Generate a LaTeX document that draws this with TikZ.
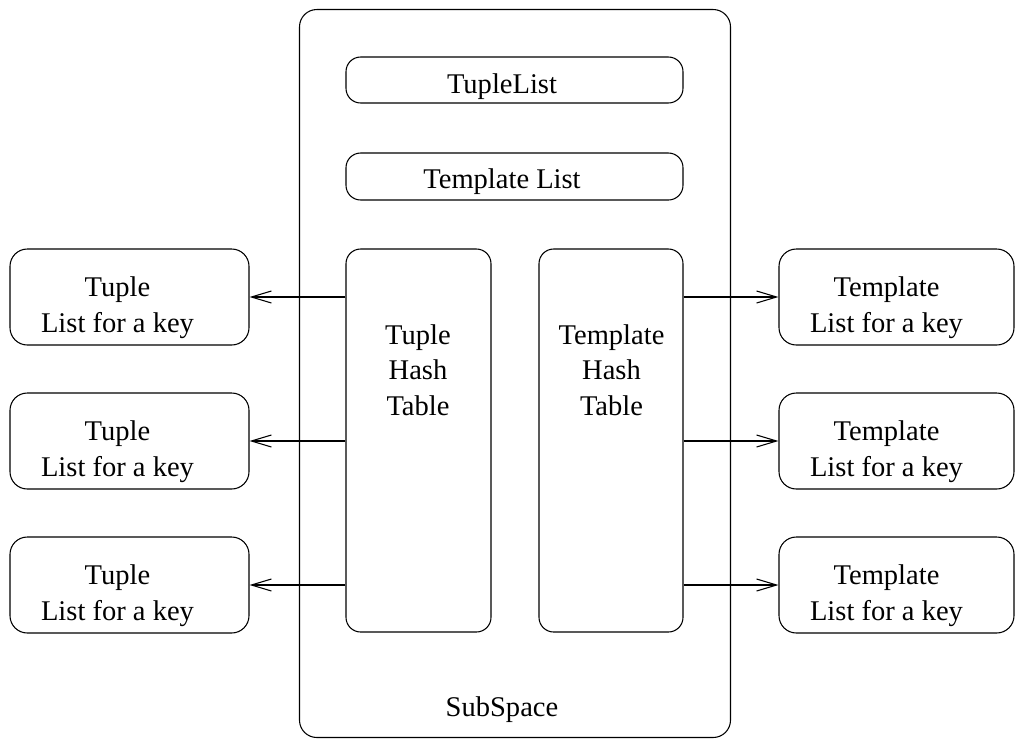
\documentclass[tikz,border=0pt]{standalone}
\usepackage{fontspec}
\setmainfont{Liberation Serif}
\usetikzlibrary{arrows.meta}
\begin{document}
\begin{tikzpicture}[x=0.75pt,y=-0.75pt,
  box/.style={draw, line width=0.8pt, rounded corners=13pt, inner sep=0pt},
  bar/.style={draw, line width=0.8pt, rounded corners=11pt, inner sep=0pt},
  txt/.style={inner sep=0pt, align=center, anchor=base,
    font=\fontsize{21.4}{26.3}\selectfont},
  link/.style={line width=0.8pt, -{Straight Barb[length=15pt,width=9pt,line width=0.8pt]}}]
\useasboundingbox (0,0) rectangle (1015,740);

% enclosing subspace
\node[box, minimum width=431*0.75pt, minimum height=728*0.75pt] (sub) at (515,373.5) {};
\node[txt] (subt) at (502,716) {SubSpace};

% list bars
\node[bar, minimum width=337*0.75pt, minimum height=46*0.75pt] (tl) at (514.5,80) {};
\node[txt] (tlt) at (502,93) {TupleList};
\node[bar, minimum width=337*0.75pt, minimum height=47*0.75pt] (ml) at (514.5,176.5) {};
\node[txt] (mlt) at (502,188) {Template List};

% hash tables (base anchor sits on the last line)
\node[bar, minimum width=145*0.75pt, minimum height=383*0.75pt] (th) at (418.5,440.5) {};
\node[txt] (tht) at (418,415) {Tuple\\Hash\\Table};
\node[bar, minimum width=144*0.75pt, minimum height=383*0.75pt] (mh) at (611,440.5) {};
\node[txt] (mht) at (611.5,415) {Template\\Hash\\Table};

% per-key lists on both sides, linked from the hash tables
\foreach \i/\y in {1/297,2/441,3/585}{
  \node[box, minimum width=239*0.75pt, minimum height=96*0.75pt] (tk\i) at (129.5,\y) {};
  \node[txt] (tkt\i) at (117.5,\y+35) {Tuple\\List for a key};
  \node[box, minimum width=235*0.75pt, minimum height=96*0.75pt] (mk\i) at (896.5,\y) {};
  \node[txt] (mkt\i) at (886.5,\y+35) {Template\\List for a key};
  \draw[link] (th.west |- tk\i) -- (tk\i.east);
  \draw[link] (mh.east |- mk\i) -- (mk\i.west);
}
\end{tikzpicture}
\end{document}
